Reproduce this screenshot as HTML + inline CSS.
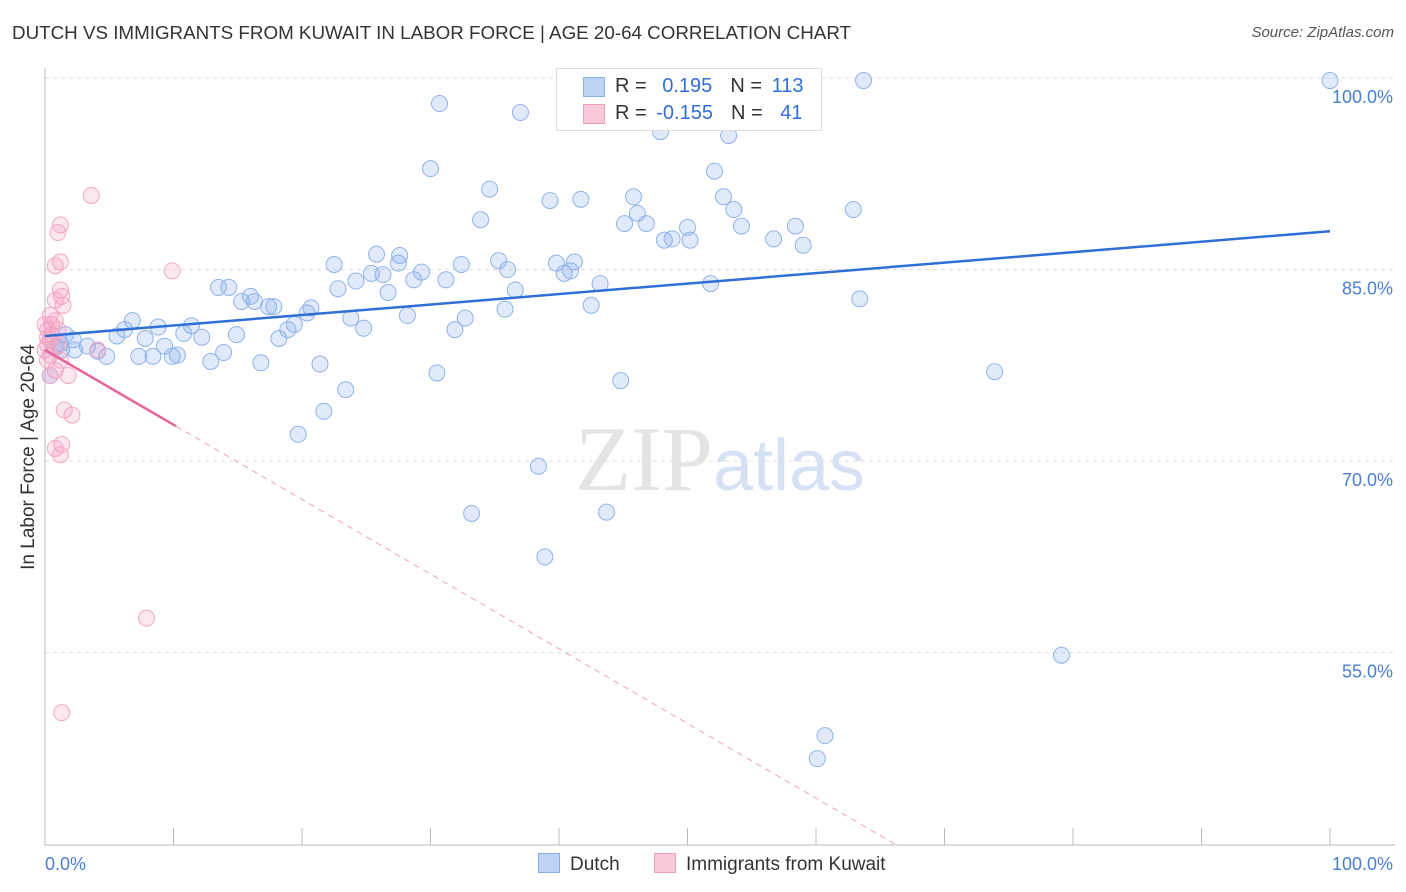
<!DOCTYPE html>
<html><head><meta charset="utf-8">
<style>
body{margin:0;background:#fff;font-family:"Liberation Sans",sans-serif;}
#wrap{position:relative;width:1406px;height:892px;overflow:hidden;}
.t{position:absolute;white-space:nowrap;}
</style></head>
<body>
<div id="wrap">
<div class="t" style="left:12px;top:22px;font-size:18.8px;color:#333;">DUTCH VS IMMIGRANTS FROM KUWAIT IN LABOR FORCE | AGE 20-64 CORRELATION CHART</div>
<div class="t" style="right:12px;top:24px;font-size:15px;color:#555;font-style:italic;">Source: ZipAtlas.com</div>
<svg id="plot" width="1406" height="892" style="position:absolute;left:0;top:0"></svg>
</div>
<script>
const xTickVals=[0,10,20,30,40,50,60,70,80,90,100];
const yGridVals=[100,85,70,55];
const yTickLabels=["100.0%","85.0%","70.0%","55.0%"];
const dutchX=[100,63.7,30.7,37.0,47.9,53.2,30.0,52.1,34.6,39.3,41.7,45.8,52.8,46.1,53.6,62.9,33.9,45.1,46.8,54.2,58.4,48.2,48.8,50.0,50.2,56.7,59.0,25.8,27.6,22.5,32.4,35.3,39.8,41.2,36.0,25.4,26.3,29.3,27.5,40.4,40.9,13.5,14.3,24.2,28.7,31.2,43.2,51.8,22.8,26.7,36.6,16.0,15.3,16.3,17.4,17.8,20.7,20.4,35.8,28.2,42.5,63.4,6.8,6.2,8.8,11.4,10.8,23.8,24.8,32.7,31.9,19.4,18.9,14.9,12.2,5.6,7.8,1.6,1.2,3.3,9.3,18.2,13.9,4.1,4.8,7.3,8.4,9.9,10.3,12.9,16.8,21.4,2.3,30.5,44.8,73.9,23.4,21.7,19.7,38.4,33.2,43.7,38.9,79.1,60.7,60.1,2.2,0.8,1.3,0.4];
const dutchY=[99.8,99.8,98.0,97.3,95.8,95.5,92.9,92.7,91.3,90.4,90.5,90.7,90.7,89.4,89.7,89.7,88.9,88.6,88.6,88.4,88.4,87.3,87.4,88.3,87.3,87.4,86.9,86.2,86.1,85.4,85.4,85.7,85.5,85.6,85.0,84.7,84.6,84.8,85.5,84.7,84.9,83.6,83.6,84.1,84.2,84.2,83.9,83.9,83.5,83.2,83.4,82.9,82.5,82.5,82.1,82.1,82.0,81.6,81.9,81.4,82.2,82.7,81.0,80.3,80.5,80.6,80.0,81.2,80.4,81.2,80.3,80.7,80.3,79.9,79.7,79.8,79.6,79.9,79.2,79.0,79.0,79.6,78.5,78.6,78.2,78.2,78.2,78.2,78.3,77.8,77.7,77.6,78.7,76.9,76.3,77.0,75.6,73.9,72.1,69.6,65.9,66.0,62.5,54.8,48.5,46.7,79.5,78.9,78.7,76.7];
const kuwaitX=[3.6,1.2,1.0,1.2,0.8,9.9,1.2,1.3,0.8,1.4,0.4,0.8,0,0.2,0.5,0.4,1.0,0,0.4,0.2,0.8,0.4,1.8,1.5,2.1,1.3,0.8,1.2,7.9,1.3,0.5,1.0,0.2,1.2,0.2,4.1];
const kuwaitY=[90.8,88.5,87.9,85.6,85.3,84.9,83.4,82.9,82.6,82.2,81.4,81.0,80.7,80.3,79.9,79.5,79.1,78.7,78.3,77.9,77.1,76.7,76.7,74.0,73.6,71.3,71.0,70.5,57.7,50.3,80.7,80.3,79.7,77.9,79.1,78.7];
const dutchTrend=[79.8,88.0];
const kuwaitTrend=[78.7,20.2];

const X=v=>45+v*12.85;
const Y=v=>78+(100-v)*12.77;
const svg=document.getElementById('plot');
const NS='http://www.w3.org/2000/svg';
function mk(tag,attrs,parent){const e=document.createElementNS(NS,tag);for(const k in attrs)e.setAttribute(k,attrs[k]);(parent||svg).appendChild(e);return e;}

yGridVals.forEach((v,i)=>{
 const g=mk('line',{x1:45,x2:1395,y1:Y(v),y2:Y(v),stroke:'#ddd','stroke-dasharray':'4,4'});
 
 
 const t=mk('text',{x:1393,y:Y(v)+25,'text-anchor':'end','font-size':18,fill:'#4a7fd4','font-family':'Liberation Sans,sans-serif'});
 t.textContent=yTickLabels[i];
 
 
});
const ax=mk('line',{x1:45,x2:1395,y1:845,y2:845,stroke:'#bbb'});


const ay=mk('line',{x1:45,x2:45,y1:68,y2:845,stroke:'#bbb'});


xTickVals.forEach(v=>{
 const l=mk('line',{x1:X(v),x2:X(v),y1:828,y2:845,stroke:'#bbb'});
 
 
});
[["0.0%",45,'start'],["100.0%",1393,'end']].forEach(a=>{
 const t=mk('text',{x:a[1],y:870,'text-anchor':a[2],'font-size':18,fill:'#4a7fd4','font-family':'Liberation Sans,sans-serif'});
 t.textContent=a[0];
 
 
});
const yt=mk('text',{x:0,y:0,transform:'translate(34,457) rotate(-90)','text-anchor':'middle','font-size':19,fill:'#333','font-family':'Liberation Sans,sans-serif'});
yt.textContent='In Labor Force | Age 20-64';


const wm=mk('text',{x:720,y:490,'text-anchor':'middle','font-size':92,fill:'#e4e4e4','font-family':'Liberation Serif,serif'});
wm.innerHTML='ZIP<tspan font-family="Liberation Sans,sans-serif" font-size="72" fill="#d6e2f4">atlas</tspan>';



dutchX.forEach((x,i)=>{
 const c=mk('circle',{cx:X(x),cy:Y(dutchY[i]),r:8,fill:'rgba(130,170,235,0.25)',stroke:'#8fb3ea','stroke-width':1});
 
 
});
kuwaitX.forEach((x,i)=>{
 const c=mk('circle',{cx:X(x),cy:Y(kuwaitY[i]),r:8,fill:'rgba(245,155,190,0.25)',stroke:'#f2a8c4','stroke-width':1});
 
 
});
const bt=mk('line',{x1:X(0),y1:Y(dutchTrend[0]),x2:X(100),y2:Y(dutchTrend[1]),stroke:'#2f6fd6','stroke-width':2.5});


const kAt=x=>kuwaitTrend[0]+(kuwaitTrend[1]-kuwaitTrend[0])*x/100;
const pt=mk('line',{x1:X(0),y1:Y(kAt(0)),x2:X(10.2),y2:Y(kAt(10.2)),stroke:'#e8649a','stroke-width':2.5});


const xEnd=(40-kuwaitTrend[0])/(kuwaitTrend[1]-kuwaitTrend[0])*100;
const pd=mk('line',{x1:X(10.2),y1:Y(kAt(10.2)),x2:X(xEnd),y2:Y(40),stroke:'#f0a0bf','stroke-width':1,'stroke-dasharray':'6,5'});


</script>
<div class="t" style="left:556px;top:68px;width:264px;height:61px;border:1px solid #ddd;background:#fff;font-size:20px;">
 <div style="position:absolute;left:26px;top:8px;width:20px;height:18px;background:#bcd3f5;border:1px solid #86aee8"></div>
 <div class="t" style="left:58px;top:6px;color:#333">R = <span style="color:#2f6fd6;margin-left:10px">0.195</span><span style="margin-left:18px">N = </span><span style="color:#2f6fd6;margin-left:4px">113</span></div>
 <div style="position:absolute;left:26px;top:35px;width:20px;height:18px;background:#f9c9da;border:1px solid #f0a0bf"></div>
 <div class="t" style="left:58px;top:33px;color:#333">R = <span style="color:#2f6fd6;margin-left:4px">-0.155</span><span style="margin-left:18px">N = </span><span style="color:#2f6fd6;margin-left:12px">41</span></div>
</div>
<div class="t" style="left:538px;top:853px;font-size:19px;color:#333">
 <span style="display:inline-block;width:20px;height:18px;background:#bcd3f5;border:1px solid #86aee8;vertical-align:-3px;margin-right:10px"></span>Dutch</div>
<div class="t" style="left:654px;top:853px;font-size:19px;color:#333">
 <span style="display:inline-block;width:20px;height:18px;background:#f9c9da;border:1px solid #f0a0bf;vertical-align:-3px;margin-right:10px"></span>Immigrants from Kuwait</div>
</body></html>
